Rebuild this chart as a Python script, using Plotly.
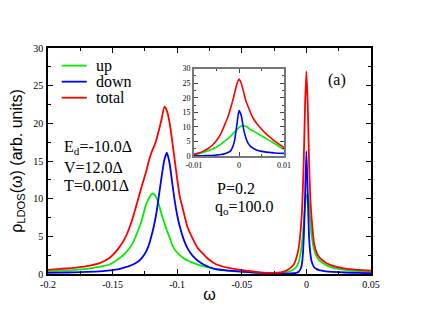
import plotly.graph_objects as go

# ---- main panel data ---------------------------------------------------------
omega = [-0.2, -0.19, -0.18, -0.17, -0.16, -0.152, -0.145, -0.14, -0.135, -0.13,
         -0.127, -0.124, -0.122, -0.12, -0.118, -0.116, -0.114, -0.112, -0.11, -0.108,
         -0.106, -0.104, -0.102, -0.1, -0.098, -0.095, -0.092, -0.088, -0.084, -0.08,
         -0.075, -0.07, -0.06, -0.05, -0.04, -0.03, -0.02, -0.015, -0.01, -0.008,
         -0.006, -0.004, -0.003, -0.002, -0.001, 0.0, 0.001, 0.002, 0.003, 0.004,
         0.006, 0.008, 0.01, 0.015, 0.02, 0.03, 0.04, 0.05]

rho_up = [0.35, 0.42, 0.52, 0.68, 0.97, 1.3, 2.05, 2.8, 3.9, 5.9,
          7.4, 9.3, 10.0, 10.6, 10.6, 10.1, 9.1, 7.9, 6.8, 5.8,
          4.9, 3.9, 3.3, 2.85, 2.5, 2.1, 1.8, 1.5, 1.25, 1.05,
          0.85, 0.6, 0.42, 0.3, 0.18, 0.1, 0.12, 0.25, 0.6, 0.9,
          1.6, 3.3, 4.8, 6.9, 9.0, 10.4, 10.6, 9.2, 7.0, 5.2,
          3.2, 2.3, 1.8, 1.2, 0.85, 0.55, 0.4, 0.35]

rho_down = [0.15, 0.18, 0.22, 0.28, 0.36, 0.48, 0.65, 0.9, 1.2, 1.7,
            2.2, 3.0, 3.8, 5.0, 6.4, 8.2, 10.6, 13.0, 15.1, 16.1,
            14.8, 12.3, 9.8, 7.8, 6.3, 4.6, 3.4, 2.4, 1.75, 1.3,
            0.9, 0.65, 0.45, 0.32, 0.2, 0.1, 0.05, 0.05, 0.1, 0.15,
            0.3, 0.9, 2.0, 5.0, 10.5, 16.3, 10.8, 5.2, 2.8, 1.7,
            0.9, 0.65, 0.5, 0.35, 0.28, 0.2, 0.14, 0.1]

rho_total = [0.55, 0.68, 0.82, 1.05, 1.45, 2.2, 3.5, 4.9, 7.1, 10.1,
             11.9, 13.6, 15.0, 16.1, 16.9, 17.9, 19.2, 20.6, 22.2, 21.7,
             20.2, 17.8, 15.2, 12.6, 10.3, 8.2, 6.2, 4.7, 3.4, 2.7,
             1.85, 1.3, 0.8, 0.5, 0.3, 0.15, 0.2, 0.5, 1.2, 2.0,
             3.4, 6.8, 10.0, 15.4, 22.6, 26.9, 22.6, 15.4, 10.2, 7.5,
             4.0, 2.8, 2.2, 1.5, 1.1, 0.7, 0.55, 0.45]

# ---- inset data (zoom around omega = 0) ---------------------------------------
omega_in = [-0.01, -0.009, -0.008, -0.007, -0.006, -0.005, -0.004, -0.003, -0.0025, -0.002,
            -0.0015, -0.001, -0.0005, 0.0, 0.0005, 0.001, 0.0015, 0.002, 0.0025, 0.003,
            0.004, 0.005, 0.006, 0.007, 0.008, 0.009, 0.01]

up_in = [0.55, 0.8, 1.2, 1.7, 2.3, 3.1, 4.1, 5.3, 5.9, 6.6,
         7.4, 8.2, 9.0, 9.8, 10.3, 10.4, 10.2, 9.7, 9.1, 8.7,
         7.8, 6.9, 6.0, 5.1, 4.2, 3.2, 2.3]

down_in = [0.05, 0.07, 0.1, 0.15, 0.2, 0.3, 0.5, 0.9, 1.2, 1.6,
           2.8, 5.3, 10.5, 15.6, 13.8, 9.3, 6.3, 4.4, 3.4, 2.8,
           2.0, 1.6, 1.35, 1.2, 1.05, 0.95, 0.9]

total_in = [0.6, 1.0, 1.6, 2.4, 3.6, 5.3, 7.8, 11.4, 13.3, 15.8,
            18.5, 21.5, 24.6, 26.4, 24.9, 22.0, 19.0, 17.0, 15.0, 13.3,
            11.0, 9.2, 7.6, 6.3, 5.0, 3.9, 2.9]

main_xticks = [-0.2, -0.15, -0.1, -0.05, 0.0, 0.05]
main_xtext = ["-0.2", "-0.15", "-0.1", "-0.05", "0", "0.05"]
inset_xticks = [-0.01, 0.0, 0.01]
inset_xtext = ["-0.01", "0", "0.01"]
yticks = [0, 5, 10, 15, 20, 25, 30]

names = ["up", "down", "total"]
colors = ["#00ee00", "#0000ff", "#ff0000"]
SERIF = "Liberation Serif"
SANS = "Liberation Sans"

fig = go.Figure()

for name, col, ys in zip(names, colors, [rho_up, rho_down, rho_total]):
    fig.add_trace(go.Scatter(x=omega, y=ys, mode="lines", name=name,
                             line=dict(color=col, width=1.8, shape="spline", smoothing=0.6),
                             xaxis="x", yaxis="y", showlegend=False))

for name, col, ys in zip(names, colors, [up_in, down_in, total_in]):
    fig.add_trace(go.Scatter(x=omega_in, y=ys, mode="lines", name=name,
                             line=dict(color=col, width=1.6, shape="spline", smoothing=0.6),
                             xaxis="x2", yaxis="y2", showlegend=False))

main_axis = dict(showline=True, linecolor="black", linewidth=1.5, mirror="allticks",
                 ticks="inside", ticklen=5, tickwidth=1, tickcolor="black",
                 showgrid=False, zeroline=False,
                 tickfont=dict(family=SERIF, size=10, color="black"))
inset_axis = dict(showline=True, linecolor="#777777", linewidth=2, mirror="allticks",
                  ticks="inside", ticklen=4, tickwidth=1, tickcolor="#444444",
                  showgrid=False, zeroline=False,
                  tickfont=dict(family=SERIF, size=8, color="black"))

# the page body adds an 8px offset, so the figure is a bit smaller than the window
fig.update_layout(
    width=414, height=316,
    template="none",
    margin=dict(l=40, r=51, t=40, b=50),
    paper_bgcolor="white", plot_bgcolor="white",
    showlegend=False,
    xaxis=dict(main_axis, range=[-0.2, 0.05], tickvals=main_xticks, ticktext=main_xtext,
               ticklabelstandoff=0,
               minor=dict(dtick=0.025, tick0=0, ticks="inside", ticklen=3, tickcolor="black"),
               title=dict(text="ω", font=dict(family=SANS, size=16, color="black"), standoff=0)),
    yaxis=dict(main_axis, range=[0, 30], tickvals=yticks, ticklabelstandoff=1,
               minor=dict(dtick=2.5, tick0=0, ticks="inside", ticklen=3, tickcolor="black"),
               title=dict(text="ρ<sub>LDOS</sub>(ω) (arb. units)",
                          font=dict(family=SANS, size=16, color="black"), standoff=7)),
    xaxis2=dict(inset_axis, domain=[0.452, 0.731], anchor="y2", range=[-0.01, 0.01],
                tickvals=inset_xticks, ticktext=inset_xtext,
                minor=dict(dtick=0.005, tick0=0, ticks="inside", ticklen=2, tickcolor="#444444")),
    yaxis2=dict(inset_axis, domain=[0.522, 0.909], anchor="x2", range=[0, 30], tickvals=yticks,
                minor=dict(dtick=2.5, tick0=0, ticks="inside", ticklen=2, tickcolor="#444444")),
)

# legend drawn by hand so the rows sit as tightly as in the original
leg_y = [27.66, 25.53, 23.4]
for name, col, yy in zip(names, colors, leg_y):
    fig.add_shape(type="line", xref="x", yref="y", x0=-0.1894, x1=-0.1700, y0=yy, y1=yy,
                  line=dict(color=col, width=1.8))
    fig.add_annotation(x=-0.1646, y=yy, xref="x", yref="y", text=name, showarrow=False,
                       xanchor="left", yanchor="middle",
                       font=dict(family=SERIF, size=16, color="black"))

labels = [
    ("E<sub>d</sub>=-10.0Δ", -0.1894, 16.75),
    ("V=12.0Δ", -0.1894, 14.2),
    ("T=0.001Δ", -0.1894, 11.7),
    ("P=0.2", -0.0710, 11.3),
    ("q<sub>o</sub>=100.0", -0.0725, 8.8),
    ("(a)", 0.0149, 25.7),
]
for txt, xx, yy in labels:
    fig.add_annotation(x=xx, y=yy, xref="x", yref="y", text=txt, showarrow=False,
                       xanchor="left", yanchor="middle",
                       font=dict(family=SERIF, size=16, color="black"))

fig.write_html("out.html")
